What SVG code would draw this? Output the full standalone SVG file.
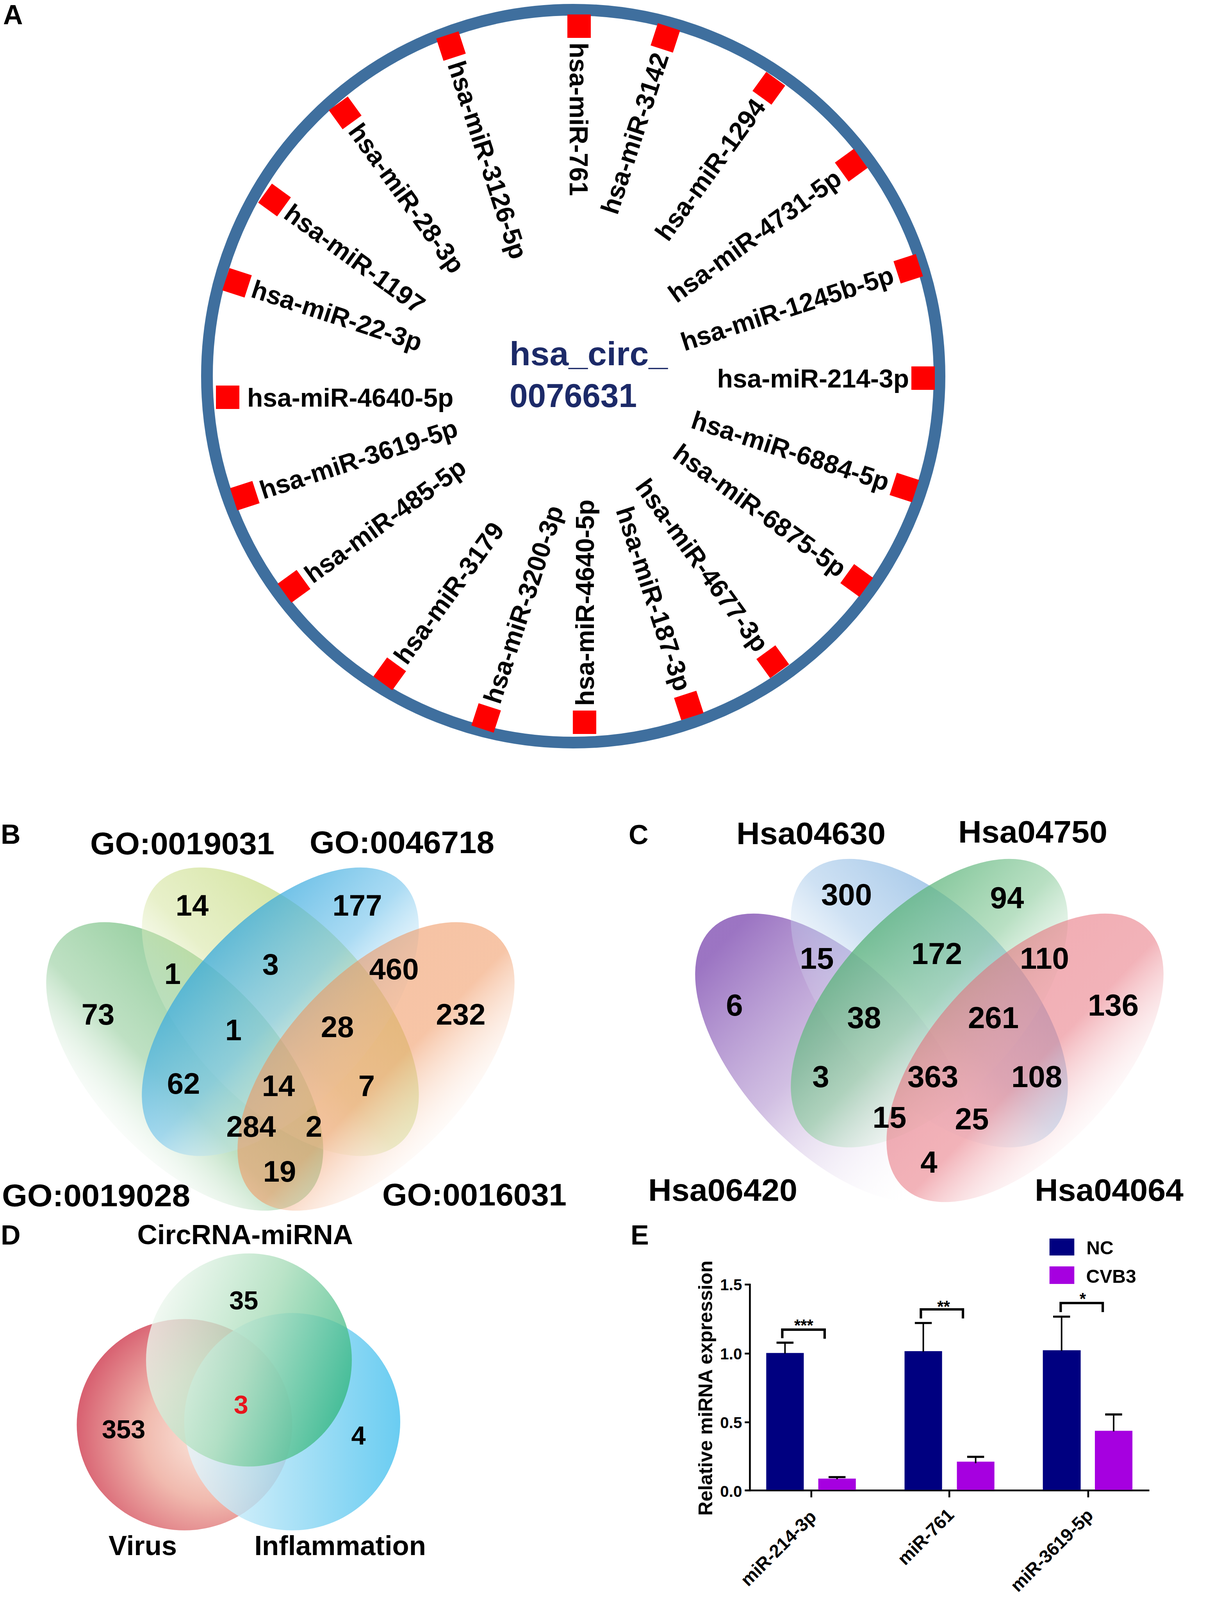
<svg xmlns="http://www.w3.org/2000/svg" width="3150" height="4471" viewBox="0 0 3150 4471">
<style>
text{font-family:"Liberation Sans",Arial,Helvetica,sans-serif;font-weight:bold;fill:#000}
.pl{font-size:70px}
.mir{font-size:66px}
.ctr{font-size:86px;fill:#1c2a68}
.set{font-size:80px}
.num{font-size:76px;text-anchor:middle}
.numc{font-size:78px;text-anchor:middle}
.dl{font-size:90px}
.dn{font-size:86px;text-anchor:middle}
.tick{font-size:52px;text-anchor:end}
.xl{font-size:60px;text-anchor:end}
.leg{font-size:62px}
.ast{font-size:54px;text-anchor:middle}
.sq{fill:#ff0000}
.ax{stroke:#000;stroke-width:6;fill:none}
.eb{stroke:#000;stroke-width:5;fill:none}
.cap{stroke:#000;stroke-width:7}
.br{stroke:#000;stroke-width:8;fill:none}
.nc{fill:#000080}
.cv{fill:#a600e0}
</style>
<defs>
<linearGradient id="gB1" x1="0.8" y1="0.2" x2="0.2" y2="0.8"><stop offset="0" stop-color="#64b873" stop-opacity="0.8"/><stop offset="0.6" stop-color="#93cc9b" stop-opacity="0.6"/><stop offset="1" stop-color="#ffffff" stop-opacity="0"/></linearGradient>
<linearGradient id="gB2" x1="0.8" y1="0.2" x2="0.2" y2="0.8"><stop offset="0" stop-color="#c4da7e" stop-opacity="0.8"/><stop offset="0.55" stop-color="#d8e6a6" stop-opacity="0.6"/><stop offset="1" stop-color="#ffffff" stop-opacity="0"/></linearGradient>
<linearGradient id="gB3" x1="0.2" y1="0.2" x2="0.8" y2="0.8"><stop offset="0" stop-color="#22a0d8" stop-opacity="0.78"/><stop offset="0.5" stop-color="#72c3ec" stop-opacity="0.6"/><stop offset="1" stop-color="#ffffff" stop-opacity="0"/></linearGradient>
<linearGradient id="gB4" x1="0.2" y1="0.2" x2="0.8" y2="0.8"><stop offset="0" stop-color="#ee9058" stop-opacity="0.55"/><stop offset="0.55" stop-color="#f0955e" stop-opacity="0.55"/><stop offset="1" stop-color="#ffffff" stop-opacity="0"/></linearGradient>
<linearGradient id="gC1" x1="0.1" y1="0.1" x2="0.9" y2="0.9"><stop offset="0" stop-color="#8a5cb8" stop-opacity="0.85"/><stop offset="0.45" stop-color="#a37fc6" stop-opacity="0.5"/><stop offset="1" stop-color="#ffffff" stop-opacity="0"/></linearGradient>
<linearGradient id="gC2" x1="0.8" y1="0.2" x2="0.2" y2="0.8"><stop offset="0" stop-color="#78acdd" stop-opacity="0.75"/><stop offset="0.5" stop-color="#a7c9ea" stop-opacity="0.55"/><stop offset="1" stop-color="#ffffff" stop-opacity="0"/></linearGradient>
<linearGradient id="gC3" x1="0.2" y1="0.2" x2="0.8" y2="0.8"><stop offset="0" stop-color="#4aab6e" stop-opacity="0.8"/><stop offset="0.5" stop-color="#8acb9b" stop-opacity="0.6"/><stop offset="1" stop-color="#ffffff" stop-opacity="0"/></linearGradient>
<linearGradient id="gC4" x1="0.2" y1="0.2" x2="0.8" y2="0.8"><stop offset="0" stop-color="#e56672" stop-opacity="0.55"/><stop offset="0.55" stop-color="#e8747f" stop-opacity="0.55"/><stop offset="1" stop-color="#ffffff" stop-opacity="0"/></linearGradient>
<radialGradient id="gDv" cx="0.62" cy="0.55" r="0.62"><stop offset="0" stop-color="#fbeadf"/><stop offset="0.5" stop-color="#f0b6aa"/><stop offset="1" stop-color="#d6596a"/></radialGradient>
<linearGradient id="gDi" x1="0" y1="0" x2="1" y2="0"><stop offset="0" stop-color="#e8f6fc"/><stop offset="0.6" stop-color="#86d5f3"/><stop offset="1" stop-color="#45c0ee"/></linearGradient>
<linearGradient id="gDc" x1="0" y1="0.3" x2="1" y2="0.7"><stop offset="0" stop-color="#f2f9f2"/><stop offset="0.5" stop-color="#a7dcb8"/><stop offset="1" stop-color="#2cb47c"/></linearGradient>
</defs>
<rect width="3150" height="4471" fill="#ffffff"/>

<!-- Panel A -->
<g id="panelA">
<text class="pl" x="8" y="62">A</text>
<circle id="circ-ring" cx="1468" cy="963" r="938" fill="none" stroke="#3f6f9e" stroke-width="30"/>
<g id="circ-center"><text class="ctr" x="1305" y="935" textLength="405" lengthAdjust="spacingAndGlyphs">hsa_circ_</text><text class="ctr" x="1305" y="1042" textLength="326" lengthAdjust="spacingAndGlyphs">0076631</text></g>
<g id="m3142" transform="translate(1704,97) rotate(-72)"><rect class="sq" x="-30" y="-30" width="60" height="60"/><text class="mir" x="-42" dy="0.36em" text-anchor="end">hsa-miR-3142</text></g>
<g id="m1294" transform="translate(1969,226) rotate(-54)"><rect class="sq" x="-30" y="-30" width="60" height="60"/><text class="mir" x="-42" dy="0.36em" text-anchor="end">hsa-miR-1294</text></g>
<g id="m4731" transform="translate(2180,423) rotate(-36)"><rect class="sq" x="-30" y="-30" width="60" height="60"/><text class="mir" x="-42" dy="0.36em" text-anchor="end">hsa-miR-4731-5p</text></g>
<g id="m1245b" transform="translate(2326,688) rotate(-18)"><rect class="sq" x="-30" y="-30" width="60" height="60"/><text class="mir" x="-42" dy="0.36em" text-anchor="end">hsa-miR-1245b-5p</text></g>
<g id="m214" transform="translate(2364,968) rotate(0)"><rect class="sq" x="-30" y="-30" width="60" height="60"/><text class="mir" x="-36" dy="0.36em" text-anchor="end">hsa-miR-214-3p</text></g>
<g id="m6884" transform="translate(2316,1248) rotate(18)"><rect class="sq" x="-30" y="-30" width="60" height="60"/><text class="mir" x="-42" dy="0.36em" text-anchor="end">hsa-miR-6884-5p</text></g>
<g id="m6875" transform="translate(2194,1486) rotate(36)"><rect class="sq" x="-30" y="-30" width="60" height="60"/><text class="mir" x="-42" dy="0.36em" text-anchor="end">hsa-miR-6875-5p</text></g>
<g id="m4677" transform="translate(1979,1694) rotate(54)"><rect class="sq" x="-30" y="-30" width="60" height="60"/><text class="mir" x="-42" dy="0.36em" text-anchor="end">hsa-miR-4677-3p</text></g>
<g id="m187" transform="translate(1764,1806) rotate(72)"><rect class="sq" x="-30" y="-30" width="60" height="60"/><text class="mir" x="-42" dy="0.36em" text-anchor="end">hsa-miR-187-3p</text></g>
<g id="m4640b" transform="translate(1497,1849) rotate(-90)"><rect class="sq" x="-30" y="-30" width="60" height="60"/><text class="mir" x="42" dy="0.36em">hsa-miR-4640-5p</text></g>
<g id="m3200" transform="translate(1245,1838) rotate(-72)"><rect class="sq" x="-30" y="-30" width="60" height="60"/><text class="mir" x="42" dy="0.36em">hsa-miR-3200-3p</text></g>
<g id="m3179" transform="translate(998,1725) rotate(-54)"><rect class="sq" x="-30" y="-30" width="60" height="60"/><text class="mir" x="42" dy="0.36em">hsa-miR-3179</text></g>
<g id="m485" transform="translate(753,1501) rotate(-36)"><rect class="sq" x="-30" y="-30" width="60" height="60"/><text class="mir" x="42" dy="0.36em">hsa-miR-485-5p</text></g>
<g id="m3619" transform="translate(627,1269) rotate(-18)"><rect class="sq" x="-30" y="-30" width="60" height="60"/><text class="mir" x="42" dy="0.36em">hsa-miR-3619-5p</text></g>
<g id="m4640l" transform="translate(583,1017) rotate(0)"><rect class="sq" x="-30" y="-30" width="60" height="60"/><text class="mir" x="50" dy="0.36em">hsa-miR-4640-5p</text></g>
<g id="m22" transform="translate(607,724) rotate(18)"><rect class="sq" x="-30" y="-30" width="60" height="60"/><text class="mir" x="42" dy="0.36em">hsa-miR-22-3p</text></g>
<g id="m1197" transform="translate(703,512) rotate(36)"><rect class="sq" x="-30" y="-30" width="60" height="60"/><text class="mir" x="42" dy="0.36em">hsa-miR-1197</text></g>
<g id="m28" transform="translate(884,289) rotate(54)"><rect class="sq" x="-30" y="-30" width="60" height="60"/><text class="mir" x="42" dy="0.36em">hsa-miR-28-3p</text></g>
<g id="m3126" transform="translate(1155,118) rotate(72)"><rect class="sq" x="-30" y="-30" width="60" height="60"/><text class="mir" x="42" dy="0.36em">hsa-miR-3126-5p</text></g>
<g id="m761" transform="translate(1483,67) rotate(90)"><rect class="sq" x="-30" y="-30" width="60" height="60"/><text class="mir" x="42" dy="0.36em">hsa-miR-761</text></g>
</g>

<!-- Panel B -->
<g id="panelB">
<text class="pl" x="2" y="2160">B</text>
<path id="B-set-GO0019028" fill="url(#gB1)" d="M162.7,2397.2 A455,235 47 0 1 783.3,3062.8 A455,235 47 0 1 162.7,2397.2 Z"/>
<path id="B-set-GO0019031" fill="url(#gB2)" d="M407.7,2257.2 A455,235 47 0 1 1028.3,2922.8 A455,235 47 0 1 407.7,2257.2 Z"/>
<path id="B-set-GO0046718" fill="url(#gB3)" d="M1028.3,2257.2 A455,235 -47 0 1 407.7,2922.8 A455,235 -47 0 1 1028.3,2257.2 Z"/>
<path id="B-set-GO0016031" fill="url(#gB4)" d="M1273.3,2397.2 A455,235 -47 0 1 652.7,3062.8 A455,235 -47 0 1 1273.3,2397.2 Z"/>
<text class="set" x="231" y="2187" textLength="472" lengthAdjust="spacingAndGlyphs">GO:0019031</text>
<text class="set" x="793" y="2184" textLength="473" lengthAdjust="spacingAndGlyphs">GO:0046718</text>
<text class="set" x="5" y="3088" textLength="482" lengthAdjust="spacingAndGlyphs">GO:0019028</text>
<text class="set" x="979" y="3086" textLength="472" lengthAdjust="spacingAndGlyphs">GO:0016031</text>
<g id="B-counts">
<text class="num" x="492" y="2344">14</text>
<text class="num" x="915" y="2344">177</text>
<text class="num" x="442" y="2519">1</text>
<text class="num" x="693" y="2495">3</text>
<text class="num" x="1009" y="2507">460</text>
<text class="num" x="251" y="2623">73</text>
<text class="num" x="598" y="2663">1</text>
<text class="num" x="864" y="2655">28</text>
<text class="num" x="1180" y="2623">232</text>
<text class="num" x="470" y="2800">62</text>
<text class="num" x="713" y="2806">14</text>
<text class="num" x="939" y="2806">7</text>
<text class="num" x="643" y="2910">284</text>
<text class="num" x="804" y="2910">2</text>
<text class="num" x="716" y="3025">19</text>
</g>
</g>

<!-- Panel C -->
<g id="panelC">
<text class="pl" x="1610" y="2161">C</text>
<path id="C-set-Hsa06420" fill="url(#gC1)" d="M1824.7,2375.2 A455,235 47 0 1 2445.3,3040.8 A455,235 47 0 1 1824.7,2375.2 Z"/>
<path id="C-set-Hsa04630" fill="url(#gC2)" d="M2069.7,2235.2 A455,235 47 0 1 2690.3,2900.8 A455,235 47 0 1 2069.7,2235.2 Z"/>
<path id="C-set-Hsa04750" fill="url(#gC3)" d="M2690.3,2235.2 A455,235 -47 0 1 2069.7,2900.8 A455,235 -47 0 1 2690.3,2235.2 Z"/>
<path id="C-set-Hsa04064" fill="url(#gC4)" d="M2935.3,2375.2 A455,235 -47 0 1 2314.7,3040.8 A455,235 -47 0 1 2935.3,2375.2 Z"/>
<text class="set" x="1886" y="2161" textLength="382" lengthAdjust="spacingAndGlyphs">Hsa04630</text>
<text class="set" x="2454" y="2157" textLength="382" lengthAdjust="spacingAndGlyphs">Hsa04750</text>
<text class="set" x="1660" y="3074" textLength="382" lengthAdjust="spacingAndGlyphs">Hsa06420</text>
<text class="set" x="2650" y="3074" textLength="381" lengthAdjust="spacingAndGlyphs">Hsa04064</text>
<g id="C-counts">
<text class="numc" x="2168" y="2317">300</text>
<text class="numc" x="2579" y="2325">94</text>
<text class="numc" x="2092" y="2480">15</text>
<text class="numc" x="2399" y="2468">172</text>
<text class="numc" x="2675" y="2480">110</text>
<text class="numc" x="1881" y="2600">6</text>
<text class="numc" x="2213" y="2632">38</text>
<text class="numc" x="2544" y="2632">261</text>
<text class="numc" x="2851" y="2600">136</text>
<text class="numc" x="2102" y="2783">3</text>
<text class="numc" x="2389" y="2783">363</text>
<text class="numc" x="2655" y="2783">108</text>
<text class="numc" x="2278" y="2887">15</text>
<text class="numc" x="2489" y="2891">25</text>
<text class="numc" x="2379" y="3002">4</text>
</g>
</g>

<!-- Panel D -->
<g id="panelD">
<text class="pl" x="2" y="3186">D</text>
<g transform="translate(560,3135) scale(0.775) translate(-560,-3236)">
<ellipse id="D-set-virus" cx="447" cy="3897" rx="356" ry="349" fill="url(#gDv)" opacity="0.95"/>
<ellipse id="D-set-inflammation" cx="803" cy="3887" rx="357" ry="359" fill="url(#gDi)" opacity="0.8"/>
<ellipse id="D-set-circrna" cx="660" cy="3683" rx="340" ry="352" fill="url(#gDc)" opacity="0.78"/>
<text class="dl" x="291" y="3301" textLength="713" lengthAdjust="spacingAndGlyphs">CircRNA-miRNA</text>
<text class="dl" x="196" y="4327" textLength="226" lengthAdjust="spacingAndGlyphs">Virus</text>
<text class="dl" x="678" y="4327" textLength="567" lengthAdjust="spacingAndGlyphs">Inflammation</text>
<text class="dn" x="643" y="3516">35</text>
<text class="dn" x="246" y="3942">353</text>
<text class="dn" x="634" y="3861" style="fill:#e8141c">3</text>
<text class="dn" x="1022" y="3962">4</text>
</g>
</g>

<!-- Panel E -->
<g id="panelE">
<text class="pl" x="1615" y="3186">E</text>
<g transform="translate(2363,3135) scale(0.775) translate(-2363,-3236)">
<text style="font-size:65px" text-anchor="middle" transform="translate(1668,3776) rotate(-90)">Relative miRNA expression</text>
<g id="E-axes">
<line class="ax" x1="1792" y1="3431" x2="1792" y2="4117"/>
<line class="ax" x1="1778" y1="4114" x2="3112" y2="4114"/>
<line class="ax" x1="1775" y1="3434" x2="1792" y2="3434"/>
<line class="ax" x1="1775" y1="3662" x2="1792" y2="3662"/>
<line class="ax" x1="1775" y1="3889" x2="1792" y2="3889"/>
<line class="ax" x1="1775" y1="4114" x2="1792" y2="4114"/>
<line class="ax" x1="1995" y1="4114" x2="1995" y2="4137"/>
<line class="ax" x1="2451" y1="4114" x2="2451" y2="4137"/>
<line class="ax" x1="2910" y1="4114" x2="2910" y2="4137"/>
<text class="tick" x="1766" y="3453">1.5</text>
<text class="tick" x="1766" y="3681">1.0</text>
<text class="tick" x="1766" y="3908">0.5</text>
<text class="tick" x="1766" y="4135">0.0</text>
</g>
<g id="E-bars">
<rect class="nc" x="1846" y="3660" width="124" height="452"/>
<rect class="cv" x="2018" y="4075" width="124" height="37"/>
<rect class="nc" x="2303" y="3654" width="124" height="458"/>
<rect class="cv" x="2476" y="4019" width="124" height="93"/>
<rect class="nc" x="2760" y="3651" width="125" height="461"/>
<rect class="cv" x="2932" y="3917" width="124" height="195"/>
</g>
<g id="E-errorbars">
<line class="eb" x1="1908" y1="3662" x2="1908" y2="3626"/><line class="cap" x1="1880" y1="3626" x2="1936" y2="3626"/>
<line class="eb" x1="2365" y1="3656" x2="2365" y2="3561"/><line class="cap" x1="2337" y1="3561" x2="2393" y2="3561"/>
<line class="eb" x1="2822" y1="3653" x2="2822" y2="3540"/><line class="cap" x1="2794" y1="3540" x2="2850" y2="3540"/>
<line class="eb" x1="2080" y1="4077" x2="2080" y2="4070"/><line class="cap" x1="2052" y1="4070" x2="2108" y2="4070"/>
<line class="eb" x1="2538" y1="4024" x2="2538" y2="4003"/><line class="cap" x1="2510" y1="4003" x2="2566" y2="4003"/>
<line class="eb" x1="2994" y1="3919" x2="2994" y2="3863"/><line class="cap" x1="2966" y1="3863" x2="3022" y2="3863"/>
</g>
<g id="E-significance">
<path class="br" d="M1899,3611 V3583 H2039 V3613"/>
<path class="br" d="M2357,3546 V3516 H2496 V3546"/>
<path class="br" d="M2819,3525 V3495 H2958 V3525"/>
<text class="ast" x="1970" y="3587">***</text>
<text class="ast" x="2432" y="3525">**</text>
<text class="ast" x="2892" y="3499">*</text>
</g>
<g id="E-legend">
<rect class="nc" x="2782" y="3282" width="82" height="56"/>
<rect class="cv" x="2782" y="3374" width="82" height="58"/>
<text class="leg" x="2904" y="3334">NC</text>
<text class="leg" x="2903" y="3428">CVB3</text>
</g>
<g id="E-xlabels">
<text class="xl" transform="translate(2015,4205) rotate(-45)">miR-214-3p</text>
<text class="xl" transform="translate(2470,4199) rotate(-45)">miR-761</text>
<text class="xl" transform="translate(2930,4200) rotate(-45)">miR-3619-5p</text>
</g>
</g>
</g>
</svg>
